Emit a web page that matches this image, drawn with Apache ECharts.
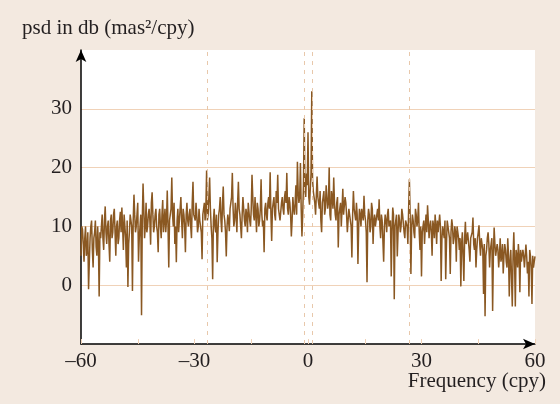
<!DOCTYPE html>
<html><head><meta charset="utf-8">
<script src="https://cdn.jsdelivr.net/npm/echarts@6/dist/echarts.min.js"></script>
<style>html,body{margin:0;padding:0;background:#f3e9e0}#c{width:560px;height:404px}</style>
</head><body><div id="c"></div>
<script>
// Frequency grid (cpy): samples every 0.2 cpy, split into two interleaved sets
const freqStart = -60;
const freqStep = 0.2;
// PSD (dB) at -60, -59.6, -59.2, ... , 60
const psdDbA = [
  5, 9.5, 4, 10, 6, -0.7, 8, 11, 3, 9, 6.5, 10, -1.9, 8, 12, 6, 13.4, 7, 11, 4, 12, 9, 13, 5, 11,
  8, 12.5, 13.2, 6, 10, 3, -0.3, 9, 12, -1, 15.4, 9, 12, 4, 10, -5.1, 17.3, 8, 14, 10, 13, 6.9, 15.8, 9, 12,
  10, 5.6, 13, 8, 14.5, 11, 9, 16.1, 3.0, 12, 18.3, 10, 7, 3.9, 13, 11, 15, 8, 12, 5.6, 14, 10, 13, 8, 17.6,
  12, 14, 9, 13, 10, 4.4, 13, 11, 19.5, 12, 18.3, 10, 1.0, 13, 9, 3.9, 12, 15, 9, 16.8, 11, 4.9, 12, 9.2, 14,
  19.1, 10, 14, 9, 17.6, 12, 8, 15, 11, 13, 9, 14, 10, 18.8, 12, 15, 9, 13, 11, 18, 10, 5.6, 14, 11, 15,
  19.2, 7.5, 14, 12, 16, 18.8, 13, 10.7, 15, 12, 16, 19.1, 12, 14, 8.3, 15, 12, 17, 21, 14, 20.8, 8.3, 17, 16, 19,
  26, 13.7, 19, 18, 15, 12, 18.5, 14, 16, 9, 15, 12, 17, 13, 20, 11, 15, 18.3, 12, 14, 6.4, 13, 10, 16.4, 12,
  14, 9, 13, 11, 4.7, 16, 12, 14, 3.6, 13, 10, 12, 15.2, 11, 0.5, 13, 9, 14, 7, 12, 10, 13, 14.6, 8, 11,
  4, 12, 9, 13, 10, 1.5, 13.2, -2.4, 11, 4.9, 12, 9, 13, 12, 8, 11, 7, 18, 1.9, 12, 9, 13, 10, 14, 6,
  1.5, 10, 7, 12, 13.6, 8, 11, 5, 10, 12, 7, 9, 12, 0.7, 10, 8, 1, 11, 9, 1.9, 11.2, 7, 10, 4, 9,
  6, -0.2, 9, 0.7, 10.8, 7, 9, 4, 8, 11.5, 6, 3, 8, 10.2, 5, 7, -1.5, -5.3, 6, 9, 3, 7, -4.4, 9.8, 5,
  7, 3, 8, 5, 2, 7, 4, 8, -1.9, 6, -3.6, 9, -3.6, 5, 7, -1.2, 4, 6, 3, 6.9, 2, -1.9, 5, -3.2, 3, 4.9
];
// PSD (dB) at -59.8, -59.4, ... , 59.8
const psdDbB = [
  10, 7, 8, 5, 9, 4, 10, 6, 8, 11, 5, 7, 9, 10, 8, 11, 9, 10, 7, 11, 8, 12, 9, 10, 7,
  11, 9, 10, 12, 8, 11, 7, 12, 10, 11, 12, 10, 14, 8, 12, 11, 13, 10, 9, 12, 11, 14, 12, 10, 13,
  9, 12, 10, 12, 9, 13, 11, 10, 11, 13, 12, 14, 10, 11, 9, 13, 11, 13, 10, 12, 11, 12, 10, 14, 12,
  11, 12, 10, 11, 9, 12, 14, 13, 11, 15, 13, 8, 11, 10, 12, 9, 13, 11, 14, 12, 9, 10, 11, 13, 15,
  13, 11, 12, 14, 13, 10, 12, 13, 10, 12, 14, 11, 13, 15, 11, 12, 14, 10, 13, 12, 11, 13, 12, 14, 13,
  12, 13, 15, 11, 14, 13, 11, 14, 13, 15, 14, 13, 15, 12, 11, 13, 14, 12, 16, 15, 13, 12, 28.4, 15, 17,
  15, 14, 33, 16, 14, 12, 15, 13, 11, 14, 16, 13, 15, 14, 12, 16, 13, 14, 11, 15, 12, 14, 13, 12, 15,
  12, 11, 13, 10, 12, 13, 11, 12, 10, 12, 13, 11, 12, 9, 11, 12, 10, 13, 11, 10, 12, 11, 10, 12, 11,
  10, 11, 12, 10, 11, 9, 12, 10, 12, 9, 11, 10, 12, 9, 11, 10, 13, 12, 10, 11, 8, 12, 11, 9, 10,
  9, 11, 10, 9, 11, 10, 9, 11, 8, 10, 11, 9, 10, 8, 9, 11, 7, 10, 8, 9, 10, 8, 9, 10, 8,
  8, 7, 9, 8, 7, 9, 6, 8, 9, 7, 8, 6, 9, 7, 8, 6, 7, 5, 8, 7, 6, 8, 5, 7, 6,
  6, 5, 4, 7, 5, 6, 3, 5, 4, 6, 5, 4, 6, 3, 5, 6, 4, 5, 3, 5, 4, 6, 3, 5, 4
];
const xTickLabels = [-60, -30, 0, 30, 60];
const yTickLabels = [0, 10, 20, 30];
const refFreqs = [-26.7, -1.06, 1.06, 26.7];

const FONT = 'Liberation Serif';
const INK = '#231f20';
const PEACH = '#f0d2b8';
const LINE = '#8a5822';

// interleave the two sample sets onto the 0.2 cpy grid
const seriesData = [];
for (let i = 0; i < psdDbA.length; i++) {
  seriesData.push([freqStart + (2 * i) * freqStep, psdDbA[i]]);
  if (i < psdDbB.length) seriesData.push([freqStart + (2 * i + 1) * freqStep, psdDbB[i]]);
}

const chart = echarts.init(document.getElementById('c'), null, {renderer: 'canvas'});
chart.setOption({
  backgroundColor: '#f3e9e0',
  animation: false,
  grid: {left: 81, right: 25, top: 50, bottom: 60, show: true, backgroundColor: '#ffffff', borderWidth: 0},
  xAxis: {
    type: 'value', min: -60, max: 60, interval: 15,
    axisLine: {show: true, onZero: false, symbol: ['none', 'arrow'], symbolSize: [8, 12], lineStyle: {color: '#000', width: 1.5}},
    axisTick: {show: true, inside: true, length: 5, lineStyle: {color: PEACH, width: 1}},
    splitLine: {show: false},
    axisLabel: {
      margin: 7, color: INK, fontFamily: FONT, fontSize: 21,
      formatter: v => xTickLabels.includes(v) ? (v < 0 ? '\u2013' + (-v) : String(v)) : ''
    }
  },
  yAxis: {
    type: 'value', min: -10, max: 40, interval: 10,
    axisLine: {show: true, onZero: false, symbol: ['none', 'arrow'], symbolSize: [8, 12], lineStyle: {color: '#000', width: 1.5}},
    axisTick: {show: false},
    splitLine: {show: true, lineStyle: {color: ['transparent', PEACH, PEACH, PEACH, PEACH, 'transparent'], width: 1}},
    axisLabel: {
      margin: 9, color: INK, fontFamily: FONT, fontSize: 21,
      formatter: v => yTickLabels.includes(v) ? String(v) : ''
    }
  },
  graphic: [
    {type: 'text', left: 22, top: 18, style: {text: 'psd in db (mas\u00b2/cpy)', fill: INK, font: '21px "Liberation Serif"'}},
    {type: 'text', right: 14, top: 371, style: {text: 'Frequency (cpy)', fill: INK, font: '21px "Liberation Serif"'}}
  ],
  series: [
    {
      type: 'line', data: [], z: 1, silent: true,
      markLine: {
        silent: true, symbol: 'none', label: {show: false},
        lineStyle: {color: '#e8c8ab', type: [4, 5], width: 1},
        data: refFreqs.map(f => ({xAxis: f}))
      }
    },
    {
      type: 'line', data: seriesData, z: 3, showSymbol: false, silent: true,
      lineStyle: {color: LINE, width: 1.5}
    }
  ]
});
</script>
</body></html>
